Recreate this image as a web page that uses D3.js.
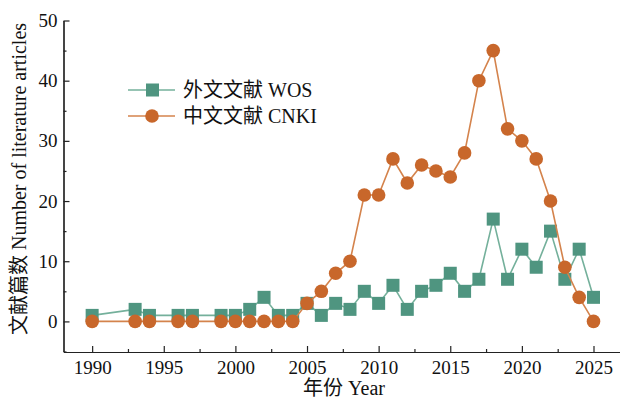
<!DOCTYPE html>
<html>
<head>
<meta charset="utf-8">
<script src="https://cdn.jsdelivr.net/npm/d3@7"></script>
<style>
  body { margin: 0; background: #fff; }
  text { font-family: "Liberation Serif", "Noto Sans CJK SC", serif; fill: #111; }
</style>
</head>
<body>
<svg id="chart" width="620" height="400"></svg>
<script>
// data
var years = [1990, 1993, 1994, 1996, 1997, 1999, 2000, 2001, 2002, 2003, 2004, 2005, 2006, 2007, 2008,
             2009, 2010, 2011, 2012, 2013, 2014, 2015, 2016, 2017, 2018, 2019, 2020, 2021, 2022, 2023, 2024, 2025];
var wos  = [1, 2, 1, 1, 1, 1, 1, 2, 4, 1, 1, 3, 1, 3, 2, 5, 3, 6, 2, 5, 6, 8, 5, 7, 17, 7, 12, 9, 15, 7, 12, 4];
var cnki = [0, 0, 0, 0, 0, 0, 0, 0, 0, 0, 0, 3, 5, 8, 10, 21, 21, 27, 23, 26, 25, 24, 28, 40, 45, 32, 30, 27, 20, 9, 4, 0];
var xTicks = [1990, 1995, 2000, 2005, 2010, 2015, 2020, 2025];
var yTicks = [0, 10, 20, 30, 40, 50];
var seriesNames = ["外文文献 WOS", "中文文献 CNKI"];

var svg = d3.select("#chart");

var x = d3.scaleLinear().domain([1988, 2026.85]).range([63.5, 620]);
var y = d3.scaleLinear().domain([-5, 50]).range([351.5, 20.5]);

var green = "#4f9580", greenLine = "#74b09b";
var orange = "#c8672b", orangeLine = "#d4834c";

// axes (ticks inward)
var xAxis = d3.axisBottom(x).tickValues(xTicks).tickFormat(d3.format("d")).tickSizeInner(-6).tickSizeOuter(0);
var xMinor = d3.axisBottom(x).tickValues(xTicks.map(function(d) { return d + 2.5; })).tickFormat("").tickSizeInner(-3).tickSizeOuter(0);
var yAxis = d3.axisLeft(y).tickValues(yTicks).tickSizeInner(-6).tickSizeOuter(0);
var yMinor = d3.axisLeft(y).tickValues(yTicks.map(function(d) { return d - 5; })).tickFormat("").tickSizeInner(-3).tickSizeOuter(0);

function styleAxis(g) {
  g.select(".domain").attr("stroke", "#222").attr("stroke-width", 1.2);
  g.selectAll(".tick line").attr("stroke", "#222").attr("stroke-width", 1.2);
  g.selectAll(".tick text").style("font-size", "19px").attr("fill", "#111");
}

svg.append("g").attr("transform", "translate(0,352)").call(xMinor).call(styleAxis);
svg.append("g").attr("transform", "translate(0,352)").call(xAxis).call(styleAxis)
  .selectAll(".tick text").attr("dy", "0.95em").attr("y", 4);
svg.append("g").attr("transform", "translate(63.5,0)").call(yMinor).call(styleAxis);
svg.append("g").attr("transform", "translate(63.5,0)").call(yAxis).call(styleAxis)
  .selectAll(".tick text").attr("x", -6);

// axis titles
svg.append("text").attr("x", 344).attr("y", 395).attr("text-anchor", "middle")
  .style("font-size", "20px").text("年份 Year");
svg.append("text").attr("transform", "translate(26,179) rotate(-90)").attr("text-anchor", "middle")
  .style("font-size", "20px").text("文献篇数 Number of literature articles");

var line = d3.line().x(function(d) { return x(d[0]); }).y(function(d) { return y(d[1]); });
var wosPts = years.map(function(d, i) { return [d, wos[i]]; });
var cnkiPts = years.map(function(d, i) { return [d, cnki[i]]; });

// WOS series
svg.append("path").datum(wosPts).attr("d", line)
  .attr("fill", "none").attr("stroke", greenLine).attr("stroke-width", 1.6);
svg.append("g").selectAll("rect").data(wosPts).enter().append("rect")
  .attr("x", function(d) { return x(d[0]) - 6.5; })
  .attr("y", function(d) { return y(d[1]) - 6.5; })
  .attr("width", 13).attr("height", 13).attr("fill", green);

// CNKI series
svg.append("path").datum(cnkiPts).attr("d", line)
  .attr("fill", "none").attr("stroke", orangeLine).attr("stroke-width", 1.6);
svg.append("g").selectAll("circle").data(cnkiPts).enter().append("circle")
  .attr("cx", function(d) { return x(d[0]); })
  .attr("cy", function(d) { return y(d[1]); })
  .attr("r", 6.8).attr("fill", orange);

// legend
var legend = svg.append("g");
var legendY = [90, 116];
legend.append("line").attr("x1", 128).attr("x2", 175).attr("y1", legendY[0]).attr("y2", legendY[0])
  .attr("stroke", greenLine).attr("stroke-width", 1.6);
legend.append("rect").attr("x", 146).attr("y", legendY[0] - 6.5).attr("width", 13).attr("height", 13).attr("fill", green);
legend.append("line").attr("x1", 128).attr("x2", 175).attr("y1", legendY[1]).attr("y2", legendY[1])
  .attr("stroke", orangeLine).attr("stroke-width", 1.6);
legend.append("circle").attr("cx", 152).attr("cy", legendY[1]).attr("r", 6.8).attr("fill", orange);
legend.selectAll("text").data(seriesNames).enter().append("text")
  .attr("x", 183).attr("y", function(d, i) { return legendY[i] + 7; })
  .style("font-size", "20px").text(function(d) { return d; });
</script>
</body>
</html>
